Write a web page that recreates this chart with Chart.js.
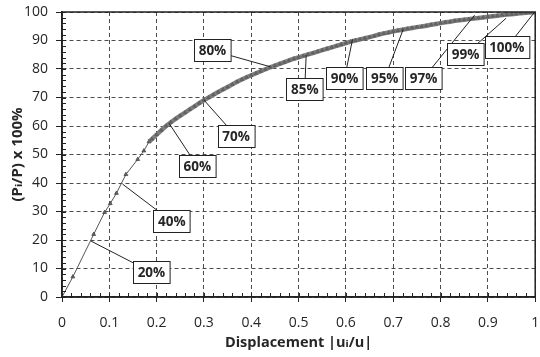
<!DOCTYPE html>
<html>
<head>
<meta charset="utf-8">
<script src="https://cdn.jsdelivr.net/npm/chart.js@4.4.1/dist/chart.umd.min.js"></script>
<style>
  body { margin: 0; background: #fff; }
</style>
</head>
<body>
<canvas id="loadChart" width="540" height="357"></canvas>
<script>
// first load steps - sparse, straight part of the curve
const dispSparse = [0, 0.023, 0.067, 0.09, 0.102, 0.115, 0.135, 0.16, 0.173, 0.184];
const loadSparse = [0, 7.1, 22.0, 29.7, 32.8, 36.4, 43.0, 48.3, 51.3, 54.5];

// later load steps - dense, curved part
const dispDense = [0.184, 0.19, 0.20, 0.21, 0.22, 0.23, 0.24, 0.25, 0.26, 0.27, 0.28, 0.29,
    0.30, 0.31, 0.32, 0.33, 0.34, 0.35, 0.36, 0.37, 0.38, 0.39, 0.40, 0.41, 0.42, 0.43, 0.44,
    0.45, 0.46, 0.47, 0.48, 0.49, 0.50, 0.51, 0.52, 0.53, 0.54, 0.55, 0.56, 0.57, 0.58, 0.59,
    0.60, 0.61, 0.62, 0.63, 0.64, 0.65, 0.66, 0.67, 0.68, 0.69, 0.70, 0.71, 0.72, 0.73, 0.74,
    0.75, 0.76, 0.77, 0.78, 0.79, 0.80, 0.81, 0.82, 0.83, 0.84, 0.85, 0.86, 0.87, 0.88, 0.89,
    0.90, 0.91, 0.92, 0.93, 0.94, 0.95, 0.96, 0.97, 0.98, 0.99, 1.00];
const loadDense = [54.5, 55.4, 57.0, 58.5, 60.0, 61.3, 62.5, 63.6, 64.7, 65.8, 66.9, 68.0,
    69.1, 70.0, 71.0, 71.9, 72.8, 73.7, 74.6, 75.5, 76.3, 77.1, 77.8, 78.5, 79.2, 79.9, 80.6,
    81.2, 81.8, 82.4, 83.0, 83.6, 84.1, 84.6, 85.1, 85.6, 86.1, 86.6, 87.1, 87.6, 88.1, 88.6,
    89.1, 89.6, 90.0, 90.4, 90.8, 91.2, 91.6, 92.1, 92.5, 92.8, 93.2, 93.5, 93.8, 94.1, 94.4,
    94.7, 94.9, 95.2, 95.5, 95.8, 96.1, 96.4, 96.6, 96.9, 97.1, 97.3, 97.5, 97.7, 97.9, 98.1,
    98.3, 98.5, 98.7, 98.9, 99.1, 99.2, 99.4, 99.6, 99.7, 99.85, 100];

// callouts: text, box centre and the point the leader goes to (data units)
const calloutText = ['20%', '40%', '60%', '70%', '80%', '85%', '90%', '95%', '97%', '99%', '100%'];
const calloutBoxX = [0.189, 0.232, 0.286, 0.368, 0.318, 0.513, 0.597, 0.682, 0.764, 0.853, 0.940];
const calloutBoxY = [8.7, 26.5, 45.9, 56.4, 86.5, 73.1, 76.7, 76.7, 76.8, 85.2, 87.6];
const calloutPtX = [0.0615, 0.128, 0.226, 0.30, 0.44, 0.516, 0.614, 0.721, 0.872, 0.9385, 0.998];
const calloutPtY = [19.6, 39.6, 61.0, 69.1, 80.8, 84.9, 90.4, 93.9, 98.9, 97.8, 99.8];

const toPoints = (xs, ys) => xs.map((x, i) => ({ x: x, y: ys[i] }));

const FONT = "'Open Sans', 'DejaVu Sans', sans-serif";
const TEXT = '#262626';

// frame, minor ticks and the percentage callouts
const extrasPlugin = {
    id: 'extras',
    afterDatasetsDraw(chart) {
        const ctx = chart.ctx;
        const xs = chart.scales.x, ys = chart.scales.y;
        const area = chart.chartArea;
        ctx.save();

        // minor ticks, inside the plot
        ctx.strokeStyle = '#222';
        ctx.lineWidth = 1;
        ctx.beginPath();
        for (let k = 0; k <= 50; k++) {
            const px = Math.round(xs.getPixelForValue(k / 50)) + 0.5;
            ctx.moveTo(px, area.bottom);
            ctx.lineTo(px, area.bottom - 4);
        }
        for (let k = 0; k <= 50; k++) {
            const py = Math.round(ys.getPixelForValue(k * 2)) + 0.5;
            ctx.moveTo(area.left, py);
            ctx.lineTo(area.left + 4, py);
        }
        ctx.stroke();

        // frame
        ctx.lineWidth = 1.5;
        ctx.strokeStyle = '#222';
        ctx.strokeRect(area.left, area.top, area.right - area.left, area.bottom - area.top);

        // callouts
        ctx.font = "bold 13.5px " + FONT;
        ctx.textAlign = 'center';
        ctx.textBaseline = 'middle';
        calloutText.forEach((t, i) => {
            const bx = xs.getPixelForValue(calloutBoxX[i]);
            const by = ys.getPixelForValue(calloutBoxY[i]);
            const tx = xs.getPixelForValue(calloutPtX[i]);
            const ty = ys.getPixelForValue(calloutPtY[i]);
            ctx.lineWidth = 1;
            ctx.strokeStyle = '#222';
            ctx.beginPath();
            ctx.moveTo(bx, by);
            ctx.lineTo(tx, ty);
            ctx.stroke();
            const w = ctx.measureText(t).width + 9;
            const h = 22;
            const x0 = Math.round(bx - w / 2) + 0.5, y0 = Math.round(by - h / 2) + 0.5;
            ctx.fillStyle = '#fff';
            ctx.fillRect(x0, y0, w, h);
            ctx.strokeRect(x0, y0, w, h);
            ctx.fillStyle = TEXT;
            ctx.fillText(t, bx, by + 1);
        });
        ctx.restore();
    }
};

const ctx = document.getElementById('loadChart').getContext('2d');
new Chart(ctx, {
    type: 'scatter',
    data: {
        datasets: [{
            data: toPoints(dispDense, loadDense),
            showLine: true,
            borderColor: '#7f7f7f',
            borderWidth: 4.5,
            pointStyle: 'triangle',
            pointRadius: 2,
            pointBorderWidth: 0.8,
            pointBorderColor: '#5a5a5a',
            pointBackgroundColor: '#6a6a6a'
        }, {
            data: toPoints(dispSparse, loadSparse),
            showLine: true,
            borderColor: '#555',
            borderWidth: 1,
            pointStyle: 'triangle',
            pointRadius: 2.2,
            pointBorderWidth: 0.8,
            pointBorderColor: '#444',
            pointBackgroundColor: '#666'
        }]
    },
    options: {
        responsive: false,
        devicePixelRatio: 1,
        animation: false,
        layout: { padding: { top: 12, right: 3, left: 0, bottom: 0 } },
        plugins: {
            legend: { display: false },
            tooltip: { enabled: false }
        },
        scales: {
            x: {
                type: 'linear',
                min: 0,
                max: 1,
                afterFit: function(scale) {
                    scale.height = 60;
                    scale.paddingLeft = 0;
                    scale.paddingRight = 0;
                },
                ticks: {
                    stepSize: 0.1,
                    padding: 13,
                    color: TEXT,
                    font: { family: FONT, size: 14 },
                    callback: function(v) { return Math.round(v * 10) / 10; }
                },
                grid: { color: '#4d4d4d', lineWidth: 1, tickLength: 5, tickColor: '#222' },
                border: { display: true, color: '#222', width: 1.5, dash: [4, 3] },
                title: {
                    display: true,
                    text: 'Displacement |uᵢ/u|',
                    color: TEXT,
                    font: { family: FONT, size: 14.5, weight: 'bold' },
                    padding: { top: 0, bottom: 5 }
                }
            },
            y: {
                min: 0,
                max: 100,
                afterFit: function(scale) {
                    scale.width = 62;
                    scale.paddingTop = 0;
                    scale.paddingBottom = 0;
                },
                ticks: {
                    stepSize: 10,
                    padding: 8,
                    color: TEXT,
                    font: { family: FONT, size: 14 }
                },
                grid: { color: '#4d4d4d', lineWidth: 1, tickLength: 6, tickColor: '#222' },
                border: { display: true, color: '#222', width: 1.5, dash: [4, 3] },
                title: {
                    display: true,
                    text: '(Pᵢ/P) x 100%',
                    color: TEXT,
                    font: { family: FONT, size: 15, weight: 'bold' },
                    padding: { top: 9, bottom: 0 }
                }
            }
        }
    },
    plugins: [extrasPlugin]
});
</script>
</body>
</html>
